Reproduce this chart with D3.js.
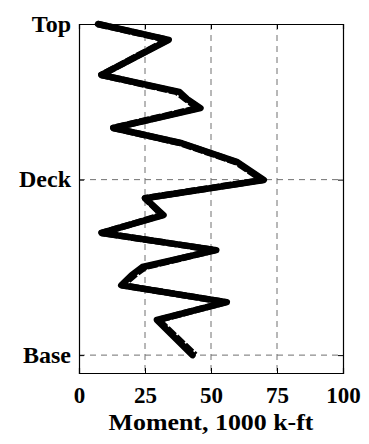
<!DOCTYPE html>
<html><head><meta charset="utf-8">
<script src="https://cdn.jsdelivr.net/npm/d3@7"></script>
<style>body{margin:0;background:#fff}</style>
</head><body>
<script>
// Data: height above base (Base = 0, Deck = 53, Top = 100), moment in 1000 k-ft
const heights = [100, 95.2, 84.6, 79.5, 77.3, 74.6, 68.6, 64.0, 58.3, 52.9, 47.4, 42.3, 36.9, 31.7, 26.6, 24.2, 21.1, 16.0, 10.6, 0];
const momentA = [7.2, 34, 8.5, 38, 41, 46, 13, 39, 60, 70, 25, 32, 8.5, 52, 24, 20, 16, 56, 29.5, 43];
const momentB = [7.0, 33.5, 8.5, 37, 40.5, 45, 13, 38.5, 59.5, 69.5, 25, 31.5, 8.7, 51.5, 25, 21, 16.5, 55.5, 30, 44];
const xTicks = [0, 25, 50, 75, 100];
const yTickVals = [100, 53, 0];
const yTickLabels = ["Top", "Deck", "Base"];
const xLabel = "Moment, 1000 k-ft";

const W = 369, H = 444;
const m = {left: 79, right: 26, top: 24, bottom: 71};
const svg = d3.select("body").append("svg").attr("width", W).attr("height", H);
const x = d3.scaleLinear().domain([0, 100]).range([m.left, W - m.right]);
const y = d3.scaleLinear().domain([-5.4, 100]).range([H - m.bottom, m.top]);
const font = "'Liberation Serif','Times New Roman',serif";

// grid
const g = svg.append("g");
g.selectAll(".vg").data(xTicks.slice(1, -1)).join("line")
  .attr("x1", d => x(d)).attr("x2", d => x(d)).attr("y1", y(100)).attr("y2", y(-5.4))
  .attr("stroke", "#707070").attr("stroke-width", 1).attr("stroke-dasharray", "6,5");
g.selectAll(".hg").data(yTickVals.slice(1)).join("line")
  .attr("x1", x(0)).attr("x2", x(100)).attr("y1", d => y(d)).attr("y2", d => y(d))
  .attr("stroke", "#707070").attr("stroke-width", 1).attr("stroke-dasharray", "6,5");

// lines
const line = d3.line().x(d => x(d[0])).y(d => y(d[1]));
svg.append("path").datum(momentB.map((v, i) => [v, heights[i]]))
  .attr("d", line).attr("fill", "none").attr("stroke", "#000").attr("stroke-width", 6.5)
  .attr("stroke-dasharray", "10,2").attr("stroke-linejoin", "round");
svg.append("path").datum(momentA.map((v, i) => [v, heights[i]]))
  .attr("d", line).attr("fill", "none").attr("stroke", "#000").attr("stroke-width", 6.5)
  .attr("stroke-linejoin", "round").attr("stroke-linecap", "round");

// axes
const xb = svg.append("g").attr("transform", `translate(0,${y(-5.4)})`)
  .call(d3.axisBottom(x).tickValues(xTicks).tickSize(-5).tickPadding(14).tickFormat(d3.format("d")));
const xt = svg.append("g").attr("transform", `translate(0,${y(100)})`)
  .call(d3.axisTop(x).tickValues(xTicks).tickSize(-5).tickFormat(""));
const yl = svg.append("g").attr("transform", `translate(${x(0)},0)`)
  .call(d3.axisLeft(y).tickValues(yTickVals).tickSize(-5).tickPadding(8)
    .tickFormat((d, i) => yTickLabels[i]));
const yr = svg.append("g").attr("transform", `translate(${x(100)},0)`)
  .call(d3.axisRight(y).tickValues(yTickVals).tickSize(-5).tickFormat(""));
[xb, xt, yl, yr].forEach(a => {
  a.select(".domain").attr("stroke", "#000").attr("stroke-width", 1.2);
  a.selectAll(".tick line").attr("stroke", "#000");
  a.selectAll("text").attr("fill", "#000").attr("font-family", font)
    .attr("font-weight", "bold").attr("font-size", 23);
});
xb.selectAll("text").attr("dy", "0.71em");
yl.selectAll("text").attr("font-size", 24).attr("dy", "0.3em");

svg.append("text").attr("x", x(50)).attr("y", 430).attr("text-anchor", "middle")
  .attr("font-family", font).attr("font-weight", "bold").attr("font-size", 23)
  .attr("textLength", 205).attr("lengthAdjust", "spacingAndGlyphs").text(xLabel);
</script>
</body></html>
